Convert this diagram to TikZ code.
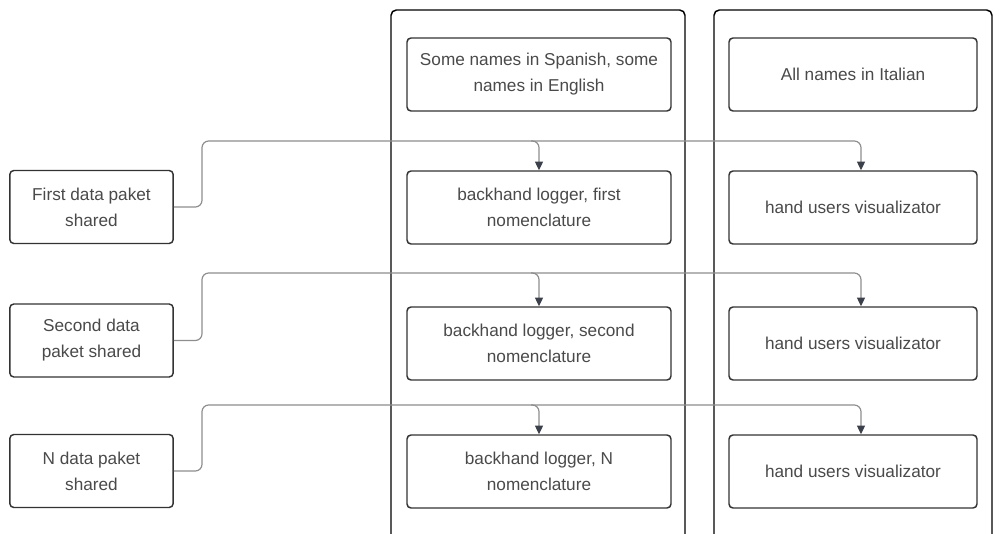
\documentclass[tikz,border=0pt]{standalone}
\usepackage{fontspec}
\setmainfont{Liberation Sans}
\usetikzlibrary{arrows.meta}
\definecolor{ink}{HTML}{333333}
\definecolor{txt}{HTML}{4A4A4A}
\definecolor{wire}{HTML}{8E8E8E}
\definecolor{tipc}{HTML}{3B404A}
\begin{document}
\begin{tikzpicture}[x=0.75pt,y=-0.75pt,
  box/.style={draw=ink,line width=1.1pt,rounded corners=3pt,fill=white,text=txt,
    align=center,inner sep=0pt,font=\fontsize{12.9}{19.5}\selectfont},
  srcbox/.style={box,minimum width=122.5pt,minimum height=54.75pt},
  midbox/.style={box,minimum width=198pt,minimum height=54.75pt},
  rightbox/.style={box,minimum width=186pt,minimum height=54.75pt},
  lane/.style={draw=black,line width=1.1pt,rounded corners=4pt},
  wireline/.style={draw=wire,line width=0.9pt,rounded corners=5pt},
  feed/.style={wireline,-{Triangle[width=6pt,length=6.5pt,color=tipc]}}
]
\useasboundingbox (0,0) rectangle (1000,534);
\clip (0,0) rectangle (1000,534);

% swim lanes, running past the lower edge
\draw[lane] (391,10) rectangle (685,570);
\draw[lane] (714,10) rectangle (992,570);

% lane headers
\node[midbox] (h1) at (539,74.5) {Some names in Spanish, some\\names in English};
\node[rightbox] (h2) at (853,74.5) {All names in Italian};

% data packets
\node[srcbox] (s1) at (91.5,207) {First data paket\\shared};
\node[srcbox] (s2) at (91.5,340.5) {Second data\\paket shared};
\node[srcbox] (s3) at (91.5,471) {N data paket\\shared};

% loggers
\node[midbox] (m1) at (539,207.5) {backhand logger, first\\nomenclature};
\node[midbox] (m2) at (539,343.5) {backhand logger, second\\nomenclature};
\node[midbox] (m3) at (539,471.5) {backhand logger, N\\nomenclature};

% visualizers
\node[rightbox] (r1) at (853,207.5) {hand users visualizator};
\node[rightbox] (r2) at (853,343.5) {hand users visualizator};
\node[rightbox] (r3) at (853,471.5) {hand users visualizator};

% bend points of the feeds
\coordinate (b1) at (202,141);
\coordinate (b2) at (202,273);
\coordinate (b3) at (202,405);
\coordinate (a1) at ([xshift=6pt]r1.north);
\coordinate (a2) at ([xshift=6pt]r2.north);
\coordinate (a3) at ([xshift=6pt]r3.north);

% feeds
\foreach \i in {1,2,3}{
  \draw[feed] (s\i.east) -| (b\i) -| (m\i.north);
  \draw[feed] ([xshift=-6pt]b\i -| m\i.north) -| (a\i);
}
\end{tikzpicture}
\end{document}
